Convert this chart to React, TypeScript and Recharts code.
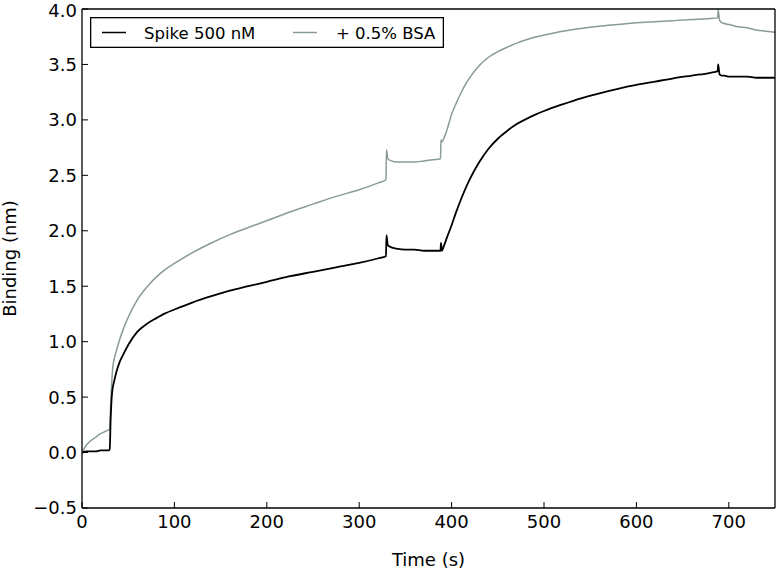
import {
  LineChart,
  Line,
  XAxis,
  YAxis,
  Legend,
  Label,
} from "recharts";

const times = [
  0, 5, 10, 15, 20, 25, 29, 30, 31, 32, 33, 35, 37, 40, 45, 50, 60, 70, 80, 90,
  100, 120, 140, 160, 180, 200, 225, 250, 275, 300, 320, 329, 329.5, 331, 335,
  340, 350, 360, 370, 380, 388, 388.5, 389.5, 392, 395, 400, 405, 410, 415, 420,
  430, 440, 450, 460, 470, 480, 490, 500, 520, 540, 560, 580, 600, 620, 640,
  660, 680, 688, 688.5, 690, 692, 695, 700, 710, 720, 730, 740, 750,
];

const spike = [
  0.0, 0.01, 0.01, 0.01, 0.02, 0.02, 0.02, 0.03, 0.3, 0.48, 0.57, 0.65, 0.72,
  0.8, 0.89, 0.97, 1.09, 1.16, 1.21, 1.255, 1.29, 1.355, 1.41, 1.46, 1.5, 1.54,
  1.59, 1.63, 1.67, 1.71, 1.75, 1.77, 1.96, 1.87, 1.85, 1.84, 1.83, 1.83, 1.82,
  1.82, 1.82, 1.89, 1.82, 1.87, 1.94, 2.05, 2.17, 2.28, 2.38, 2.47, 2.62, 2.74,
  2.83, 2.9, 2.96, 3.005, 3.045, 3.08, 3.14, 3.195, 3.24, 3.28, 3.315, 3.345,
  3.375, 3.4, 3.425, 3.44, 3.5, 3.41, 3.4, 3.4, 3.39, 3.39, 3.39, 3.38, 3.38,
  3.38,
];

const spikeBsa = [
  0.0, 0.07, 0.11, 0.14, 0.17, 0.19, 0.205, 0.21, 0.42, 0.6, 0.74, 0.85, 0.91,
  1.0, 1.12, 1.22, 1.38, 1.49, 1.58, 1.65, 1.705, 1.805, 1.89, 1.965, 2.03,
  2.09, 2.17, 2.24, 2.31, 2.37, 2.43, 2.46, 2.73, 2.65, 2.63, 2.62, 2.62, 2.62,
  2.63, 2.64, 2.65, 2.82, 2.8, 2.84, 2.91, 3.05, 3.15, 3.24, 3.32, 3.385, 3.49,
  3.565, 3.615, 3.655, 3.69, 3.72, 3.745, 3.765, 3.8, 3.825, 3.845, 3.86,
  3.875, 3.885, 3.895, 3.905, 3.915, 3.92, 3.99, 3.9, 3.88, 3.87, 3.86, 3.84,
  3.83, 3.81, 3.8, 3.79,
];

const xTicks = [0, 100, 200, 300, 400, 500, 600, 700];
const yTicks = [-0.5, 0, 0.5, 1, 1.5, 2, 2.5, 3, 3.5, 4];

const data = times.map((t, i) => ({ t, spike: spike[i], bsa: spikeBsa[i] }));

const FONT = "DejaVu Sans";
const GRAY = "#8a9a9a";

const fmtY = (v: number) => (v < 0 ? "\u2212" + Math.abs(v).toFixed(1) : v.toFixed(1));

const LegendBox = () => (
  <svg width={354} height={31} style={{ display: "block" }}>
    <rect x={0.65} y={0.65} width={352.7} height={29.7} fill="#fff" stroke="#000" strokeWidth={1.3} />
    <line x1={12} x2={36} y1={15.5} y2={15.5} stroke="#000" strokeWidth={1.5} />
    <text x={54} y={21.5} fontFamily={FONT} fontSize={16.5} fill="#000">
      Spike 500 nM
    </text>
    <line x1={203} x2={227} y1={15.5} y2={15.5} stroke={GRAY} strokeWidth={1.5} />
    <text x={246} y={21.5} fontFamily={FONT} fontSize={16.5} fill="#000">
      + 0.5% BSA
    </text>
  </svg>
);

export default function App() {
  const tickStyle = { fill: "#000", fontSize: 18, fontFamily: FONT };
  return (
    <div style={{ position: "absolute", left: 0, top: 0, background: "#fff" }}>
      <LineChart
        width={776}
        height={571}
        data={data}
        margin={{ top: 0, right: 0, bottom: 0, left: 0 }}
      >
        <XAxis
          xAxisId="bottom"
          dataKey="t"
          type="number"
          domain={[0, 750]}
          ticks={xTicks}
          allowDataOverflow
          height={63}
          tickSize={-6}
          tickMargin={13}
          tick={tickStyle}
          axisLine={{ stroke: "#000", strokeWidth: 1.3 }}
          tickLine={{ stroke: "#000", strokeWidth: 1 }}
        >
          <Label
            value="Time (s)"
            position="insideBottom"
            offset={5}
            style={{ fill: "#000", fontSize: 18, fontFamily: FONT }}
          />
        </XAxis>
        <XAxis
          xAxisId="top"
          orientation="top"
          dataKey="t"
          type="number"
          domain={[0, 750]}
          ticks={xTicks}
          allowDataOverflow
          height={9}
          tickSize={-6}
          tick={false}
          axisLine={{ stroke: "#000", strokeWidth: 1.3 }}
          tickLine={{ stroke: "#000", strokeWidth: 1 }}
        />
        <YAxis
          yAxisId="left"
          type="number"
          domain={[-0.5, 4]}
          ticks={yTicks}
          allowDataOverflow
          width={82}
          tickSize={-6}
          tickMargin={11}
          tickFormatter={fmtY}
          tick={tickStyle}
          axisLine={{ stroke: "#000", strokeWidth: 1.3 }}
          tickLine={{ stroke: "#000", strokeWidth: 1 }}
        >
          <Label
            content={(props: any) => {
              const vb = props.viewBox || {};
              const cy = (vb.y ?? 0) + (vb.height ?? 0) / 2;
              const cx = 16;
              return (
                <text
                  x={cx}
                  y={cy}
                  transform={`rotate(-90, ${cx}, ${cy})`}
                  textAnchor="middle"
                  fontFamily={FONT}
                  fontSize={18}
                  fill="#000"
                >
                  Binding (nm)
                </text>
              );
            }}
          />
        </YAxis>
        <YAxis
          yAxisId="right"
          orientation="right"
          type="number"
          domain={[-0.5, 4]}
          ticks={yTicks}
          allowDataOverflow
          width={1}
          tickSize={-6}
          tick={false}
          axisLine={{ stroke: "#000", strokeWidth: 1.3 }}
          tickLine={{ stroke: "#000", strokeWidth: 1 }}
        />
        <Legend
          layout="horizontal"
          verticalAlign="middle"
          align="center"
          wrapperStyle={{ position: "absolute", left: 90, top: 17, width: 354, height: 31 }}
          content={() => <LegendBox />}
        />
        <Line
          xAxisId="top"
          yAxisId="right"
          dataKey="bsa"
          name="+ 0.5% BSA"
          type="monotone"
          stroke={GRAY}
          strokeWidth={1.5}
          dot={false}
          isAnimationActive={false}
        />
        <Line
          xAxisId="bottom"
          yAxisId="left"
          dataKey="spike"
          name="Spike 500 nM"
          type="monotone"
          stroke="#000"
          strokeWidth={1.8}
          dot={false}
          isAnimationActive={false}
        />
      </LineChart>
    </div>
  );
}
